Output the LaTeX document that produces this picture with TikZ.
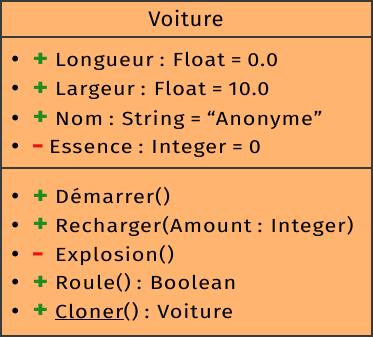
\documentclass[tikz,border=0pt]{standalone}
\usepackage{fontspec}
\setmainfont{Fira Sans}[FakeStretch=1.14, LetterSpace=5, WordSpace=0.85]
\newfontfamily\titlefont{Fira Sans}[FakeStretch=1.05, LetterSpace=3]
\newfontfamily\markfont{DejaVu Sans}
\definecolor{classfill}{HTML}{FFB570}
\definecolor{classline}{HTML}{3A3A3A}
\definecolor{pubgreen}{HTML}{1E8C1E}
\definecolor{privred}{HTML}{F01010}
\tikzset{
  entry/.style={anchor=base west, inner sep=0pt, font=\fontsize{19}{22}\selectfont},
  bulletmark/.style={anchor=base, inner sep=0pt, font=\markfont\fontsize{20}{22}\selectfont},
  vismark/.style={anchor=base, inner sep=0pt, font=\fontsize{26}{28}\selectfont\bfseries},
  pubmark/.style={vismark, text=pubgreen},
  privmark/.style={vismark, text=privred},
  titletext/.style={anchor=base, inner sep=0pt, font=\titlefont\fontsize{21}{24}\selectfont},
}
\begin{document}
\begin{tikzpicture}[x=1pt,y=-1pt]
  \useasboundingbox (0,0) rectangle (373,337);
  % class box with its three compartments
  \draw[classline, line width=2pt, fill=classfill] (1,1) rectangle (372,336);
  \draw[classline, line width=2pt] (1,37) -- (372,37);
  \draw[classline, line width=2pt] (1,168) -- (372,168);
  % class name
  \node[titletext] (title) at (186,27) {Voiture};
  % list bullets
  \foreach \y [count=\i] in {67,96,125.5,154,204,232.5,261.5,290,318}
    \node[bulletmark] (b\i) at (15.3,\y) {•};
  % visibility marks
  \node[pubmark] (v1) at (40.5,67.5) {+};
  \node[pubmark] (v2) at (40.5,96.5) {+};
  \node[pubmark] (v3) at (40.5,126) {+};
  \node[privmark] (v4) at (38,154.5) {-};
  \node[pubmark] (v5) at (40.5,204.5) {+};
  \node[pubmark] (v6) at (40.5,233) {+};
  \node[privmark] (v7) at (38,262) {-};
  \node[pubmark] (v8) at (40.5,290.5) {+};
  \node[pubmark] (v9) at (40.5,318.5) {+};
  % attributes
  \node[entry] (a1) at (55,67) {Longueur : Float = 0.0};
  \node[entry] (a2) at (55,96) {Largeur : Float = 10.0};
  \node[entry] (a3) at (55,125.5) {Nom : String = “Anonyme”};
  \node[entry] (a4) at (49,154) {Essence : Integer = 0};
  % operations
  \node[entry] (o1) at (55,204) {Démarrer()};
  \node[entry] (o2) at (55,232.5) {Recharger(Amount : Integer)};
  \node[entry] (o3) at (55,261.5) {Explosion()};
  \node[entry] (o4) at (55,290) {Roule() : Boolean};
  \node[entry] (o5) at (55,318) {\underline{Cloner}() : Voiture};
\end{tikzpicture}
\end{document}
